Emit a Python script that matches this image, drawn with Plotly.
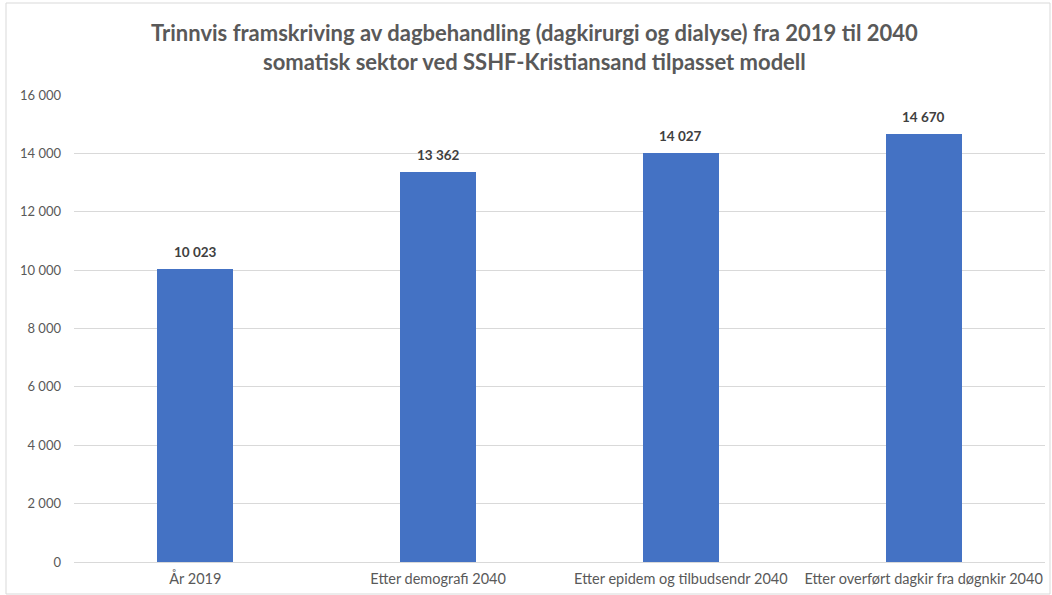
import plotly.graph_objects as go

# Dagbehandling, trinnvis framskriving 2019 -> 2040
categories = [
    "År 2019",
    "Etter demografi 2040",
    "Etter epidem og tilbudsendr 2040",
    "Etter overført dagkir fra døgnkir 2040",
]
values = [10023, 13362, 14027, 14670]
y_ticks = [0, 2000, 4000, 6000, 8000, 10000, 12000, 14000, 16000]

FONT = "Lato, Carlito, 'Open Sans', sans-serif"

# plot area in pixels
L, R, T, B = 74, 7, 95, 33
W, H = 1052, 595
PW, PH = W - L - R, H - T - B

fig = go.Figure(
    go.Bar(
        x=categories,
        y=values,
        width=0.313,
        marker=dict(color="#4472C4", line=dict(width=0)),
    )
)

for c, v in zip(categories, values):
    fig.add_annotation(
        x=c,
        y=v,
        text=f"<b>{v:,}</b>".replace(",", " "),
        showarrow=False,
        yanchor="bottom",
        yshift=7,
        font=dict(family=FONT, size=13.5, color="#404040"),
    )

fig.update_layout(
    width=W,
    height=H,
    margin=dict(l=L, r=R, t=T, b=B),
    paper_bgcolor="white",
    plot_bgcolor="white",
    separators=", ",
    showlegend=False,
    title=dict(
        text="<b>Trinnvis framskriving av dagbehandling (dagkirurgi og dialyse) fra 2019 til 2040<br>"
             "somatisk sektor ved SSHF-Kristiansand tilpasset modell</b>",
        x=0.508,
        xanchor="center",
        y=(H - 41) / H,
        yanchor="middle",
        font=dict(family=FONT, size=22, color="#595959"),
    ),
    xaxis=dict(
        showgrid=False,
        showline=True,
        linecolor="#D9D9D9",
        linewidth=1,
        ticks="",
        ticklabelstandoff=4,
        tickfont=dict(family=FONT, size=14.5, color="#595959"),
    ),
    yaxis=dict(
        range=[0, 16000],
        tickvals=y_ticks,
        tickformat=",d",
        showgrid=True,
        gridcolor="#D9D9D9",
        gridwidth=1,
        zeroline=False,
        showline=False,
        ticks="",
        ticklabelstandoff=12,
        tickfont=dict(family=FONT, size=13, color="#595959"),
    ),
    bargap=0,
    shapes=[
        dict(
            type="rect",
            xref="paper",
            yref="paper",
            x0=(6 - L) / PW,
            x1=(1050 - L) / PW,
            y0=-(594 - (H - B)) / PH,
            y1=1 + (T - 3) / PH,
            line=dict(color="#D9D9D9", width=1),
            fillcolor="rgba(0,0,0,0)",
            layer="below",
        )
    ],
)

fig.write_html("out.html")
